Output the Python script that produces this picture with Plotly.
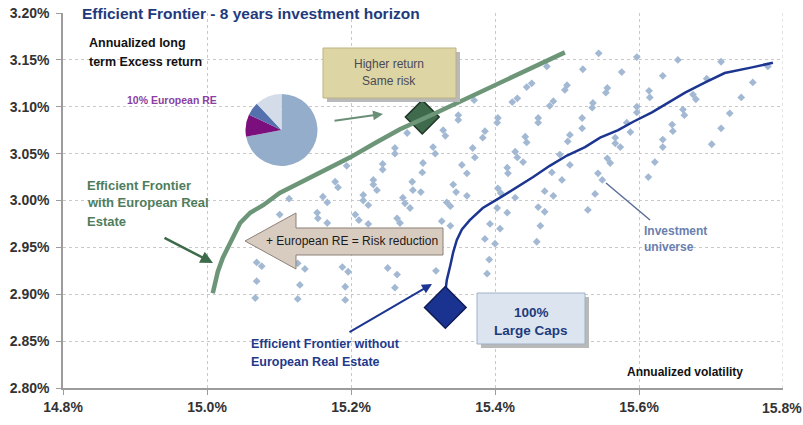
import plotly.graph_objects as go

# investment universe (annualized volatility %, annualized excess return %)
universe_vol = [
    15.544, 15.597, 15.654, 15.714, 15.779, 15.472, 15.522, 15.576, 15.633, 15.694, 15.758,
    15.451, 15.444, 15.500, 15.497, 15.556, 15.554, 15.614, 15.615, 15.675, 15.679, 15.742,
    15.371, 15.431, 15.424, 15.481, 15.476, 15.536, 15.535, 15.597, 15.597, 15.661, 15.663, 15.726,
    15.349, 15.349, 15.404, 15.403, 15.460, 15.460, 15.521, 15.521, 15.583, 15.588, 15.646, 15.647, 15.714,
    15.278, 15.328, 15.331, 15.386, 15.383, 15.442, 15.444, 15.504, 15.501, 15.567, 15.567, 15.574, 15.633, 15.633, 15.701,
    15.261, 15.261, 15.314, 15.317, 15.369, 15.372, 15.428, 15.431, 15.439, 15.490, 15.504, 15.556, 15.560, 15.622,
    15.194, 15.244, 15.244, 15.300, 15.299, 15.354, 15.361, 15.417, 15.418, 15.479, 15.493, 15.543, 15.549, 15.613,
    15.178, 15.182, 15.231, 15.231, 15.236, 15.285, 15.286, 15.297, 15.342, 15.346, 15.404, 15.408, 15.469, 15.481, 15.539,
    15.114, 15.161, 15.167, 15.217, 15.217, 15.224, 15.272, 15.275, 15.282, 15.333, 15.338, 15.361, 15.428, 15.403, 15.417, 15.460, 15.469, 15.529,
    15.101, 15.153, 15.154, 15.167, 15.206, 15.211, 15.224, 15.264, 15.268, 15.326, 15.338, 15.393, 15.407, 15.463,
    15.069, 15.076, 15.126, 15.136, 15.188, 15.196, 15.251, 15.264, 15.318, 15.386, 15.400, 15.458, 15.392, 15.389,
    15.069, 15.129, 15.192, 15.261, 15.067, 15.126, 15.192,
]
universe_ret = [
    3.157, 3.153, 3.150, 3.148, 3.143, 3.143, 3.140, 3.137, 3.133, 3.130, 3.126,
    3.125, 3.121, 3.123, 3.118, 3.120, 3.115, 3.117, 3.110, 3.113, 3.108, 3.110,
    3.107, 3.109, 3.105, 3.106, 3.101, 3.104, 3.099, 3.100, 3.094, 3.097, 3.091, 3.093,
    3.091, 3.086, 3.088, 3.083, 3.088, 3.083, 3.088, 3.077, 3.083, 3.073, 3.081, 3.074, 3.077,
    3.072, 3.075, 3.069, 3.074, 3.067, 3.068, 3.062, 3.070, 3.063, 3.067, 3.061, 3.057, 3.065, 3.057, 3.060,
    3.056, 3.050, 3.057, 3.050, 3.056, 3.046, 3.052, 3.046, 3.041, 3.049, 3.038, 3.045, 3.040, 3.041,
    3.037, 3.039, 3.033, 3.040, 3.030, 3.038, 3.029, 3.035, 3.029, 3.030, 3.022, 3.029, 3.022, 3.025,
    3.020, 3.014, 3.022, 3.017, 3.011, 3.020, 3.011, 3.009, 3.017, 3.009, 3.013, 3.008, 3.010, 3.005, 3.007,
    3.002, 3.004, 2.998, 3.006, 3.000, 2.995, 3.003, 2.997, 2.992, 2.998, 2.994, 3.005, 3.003, 2.992, 2.987, 2.993, 2.988, 2.990,
    2.985, 2.987, 2.981, 2.976, 2.985, 2.979, 2.975, 2.981, 2.976, 2.978, 2.973, 2.975, 2.970, 2.973,
    2.934, 2.930, 2.933, 2.927, 2.929, 2.924, 2.928, 2.921, 2.925, 2.959, 2.954, 2.956, 2.937, 2.922,
    2.914, 2.910, 2.908, 2.907, 2.896, 2.895, 2.894,
]

# efficient frontier with European real estate
frontier_re_vol = [15.008, 15.011, 15.015, 15.022, 15.029, 15.036, 15.046, 15.060, 15.078, 15.101,
                   15.129, 15.164, 15.199, 15.233, 15.268, 15.314, 15.361, 15.407, 15.453, 15.497]
frontier_re_ret = [2.901, 2.912, 2.924, 2.939, 2.950, 2.963, 2.976, 2.987, 2.995, 3.008,
                   3.019, 3.033, 3.046, 3.061, 3.076, 3.092, 3.109, 3.125, 3.142, 3.158]

# efficient frontier without European real estate
frontier_vol = [15.331, 15.333, 15.338, 15.342, 15.347, 15.354, 15.365, 15.383, 15.407, 15.431, 15.453, 15.476,
                15.500, 15.525, 15.546, 15.571, 15.592, 15.618, 15.639, 15.664, 15.692, 15.719, 15.757, 15.786]
frontier_ret = [2.902, 2.915, 2.931, 2.945, 2.958, 2.969, 2.979, 2.992, 3.003, 3.014, 3.025, 3.037,
                3.048, 3.057, 3.067, 3.075, 3.084, 3.094, 3.104, 3.115, 3.126, 3.136, 3.142, 3.147]

# highlighted portfolios
large_caps = (15.331, 2.886)
same_risk_re = (15.299, 3.089)

# allocation pie
pie_labels = ['Other assets', 'European RE', 'Asset B', 'Asset C']
pie_values = [72, 10, 6, 12]
pie_colors = ['#93adca', '#7c0f7e', '#5470ad', '#d3dce8']

# x ticks (last one sits on the page edge, drawn separately)
x_ticks = [14.8, 15.0, 15.2, 15.4, 15.6]
x_tick_labels = ['14.8%', '15.0%', '15.2%', '15.4%', '15.6%']
x_last_tick, x_last_label = 15.8, '15.8%'

FONT = 'Arial, Liberation Sans, sans-serif'
L, R, T, B = 63, 20, 13, 37
W, H = 803, 425
PW, PH = W - L - R, H - T - B


def px(x):
    return (x - L) / PW


def py(y):
    return (H - B - y) / PH


fig = go.Figure()

fig.add_trace(go.Scatter(x=universe_vol, y=universe_ret, mode='markers',
                         marker=dict(symbol='diamond', size=6, color='#a3b9d3'),
                         hoverinfo='x+y', showlegend=False))
fig.add_trace(go.Scatter(x=[same_risk_re[0]], y=[same_risk_re[1]], mode='markers',
                         marker=dict(symbol='diamond', size=26, color='#3f6a4b',
                                     line=dict(color='#1e3524', width=1.5)),
                         showlegend=False))
fig.add_trace(go.Scatter(x=frontier_re_vol, y=frontier_re_ret, mode='lines',
                         line=dict(color='#6d9679', width=4.5),
                         showlegend=False))
fig.add_trace(go.Scatter(x=frontier_vol, y=frontier_ret, mode='lines',
                         line=dict(color='#1c3591', width=2.5),
                         showlegend=False))
fig.add_trace(go.Scatter(x=[large_caps[0]], y=[large_caps[1]], mode='markers',
                         marker=dict(symbol='diamond', size=32, color='#1b3390',
                                     line=dict(color='#0e1c55', width=1.5)),
                         showlegend=False))
fig.add_trace(go.Pie(labels=pie_labels, values=pie_values, sort=False, direction='clockwise',
                     rotation=0, textinfo='none', hoverinfo='label+percent',
                     marker=dict(colors=pie_colors, line=dict(width=0)),
                     domain=dict(x=[px(245), px(318)], y=[py(166), py(94)]),
                     showlegend=False))

shapes = []
# "Higher return / Same risk" box with shadow
shapes.append(dict(type='rect', xref='paper', yref='paper', x0=px(327), x1=px(460), y0=py(102), y1=py(52),
                   fillcolor='#b9b9b9', line=dict(width=0), layer='above'))
shapes.append(dict(type='rect', xref='paper', yref='paper', x0=px(323), x1=px(456), y0=py(98), y1=py(48),
                   fillcolor='#ded5a5', line=dict(color='#bdb283', width=1), layer='above'))
# "100% Large Caps" box with shadow
shapes.append(dict(type='rect', xref='paper', yref='paper', x0=px(481), x1=px(589), y0=py(348), y1=py(297),
                   fillcolor='#b9b9b9', line=dict(width=0), layer='above'))
shapes.append(dict(type='rect', xref='paper', yref='paper', x0=px(477), x1=px(585), y0=py(344), y1=py(293),
                   fillcolor='#dce5ef', line=dict(color='#9fb1c6', width=1), layer='above'))
# block arrow "+ European RE = Risk reduction"
arrow_pts = [(245, 241), (296, 213), (296, 228), (443, 228), (443, 255), (296, 255), (296, 269)]
path = 'M ' + ' L '.join('%.4f,%.4f' % (px(a), py(b)) for a, b in arrow_pts) + ' Z'
shapes.append(dict(type='path', xref='paper', yref='paper', path=path,
                   fillcolor='#d8ccc1', line=dict(color='#8c8178', width=1), layer='above'))
# pointer to investment universe
shapes.append(dict(type='line', xref='paper', yref='paper', x0=px(606), y0=py(183), x1=px(650), y1=py(220),
                   line=dict(color='#5b6e99', width=1.5), layer='above'))

ann = []


def text(x, y, s, size=12, color='#111', bold=True, anchor='left'):
    ann.append(dict(xref='paper', yref='paper', x=px(x), y=py(y), text=s, showarrow=False,
                    xanchor=anchor, yanchor='middle',
                    font=dict(family=FONT, size=size, color=color, weight='bold' if bold else 'normal')))


text(80, 13, 'Efficient Frontier - 8 years investment horizon', size=15.5, color='#1f3a7c')
text(87, 43, 'Annualized long', size=12.5)
text(87, 62, 'term Excess return', size=12.5)
text(125, 100, '10% European RE', size=10.5, color='#8b3fa2')
text(389, 64, 'Higher return', size=12, color='#4a4a55', bold=False, anchor='center')
text(389, 81, 'Same risk', size=12, color='#4a4a55', bold=False, anchor='center')
text(85, 185, 'Efficient Frontier', size=13, color='#4f7d5c')
text(85, 203, 'with European Real', size=13, color='#4f7d5c')
text(85, 221, 'Estate', size=13, color='#4f7d5c')
text(352, 241, '+ European RE = Risk reduction', size=12, color='#1a1a1a', bold=False, anchor='center')
text(531, 312, '100%', size=13.5, color='#1f3a7c', anchor='center')
text(531, 330, 'Large Caps', size=13.5, color='#1f3a7c', anchor='center')
text(249, 344, 'Efficient Frontier without', size=12.5, color='#1f3a8a')
text(249, 362, 'European Real Estate', size=12.5, color='#1f3a8a')
text(642, 231, 'Investment', size=12, color='#6b7fae')
text(642, 247, 'universe', size=12, color='#6b7fae')
text(625, 372, 'Annualized volatility', size=12, color='#111')

ann.append(dict(xref='x', yref='paper', x=x_last_tick, y=py(408), text=x_last_label, showarrow=False,
                xanchor='right', xshift=21, yanchor='middle',
                font=dict(family=FONT, size=14, color='#333', weight='bold')))

# arrows
ann.append(dict(xref='paper', yref='paper', x=px(383), y=py(114), ax=-50, ay=7, text='', showarrow=True,
                arrowhead=2, arrowsize=1, arrowwidth=2, arrowcolor='#6a8f78'))
ann.append(dict(xref='paper', yref='paper', x=px(213), y=py(263), ax=-50, ay=-26, text='', showarrow=True,
                arrowhead=2, arrowsize=1, arrowwidth=2.5, arrowcolor='#3d6b4a'))
ann.append(dict(xref='paper', yref='paper', x=px(432), y=py(284), ax=-84, ay=49, text='', showarrow=True,
                arrowhead=2, arrowsize=1, arrowwidth=2, arrowcolor='#1c3591'))

fig.update_layout(
    width=W, height=H,
    margin=dict(l=L, r=R, t=T, b=B, autoexpand=False),
    paper_bgcolor='white', plot_bgcolor='white',
    shapes=shapes, annotations=ann,
    font=dict(family=FONT),
    xaxis=dict(range=[14.8, 15.8], tickmode='array', tickvals=x_ticks, ticktext=x_tick_labels,
               showgrid=True, gridcolor='#c9c9c9', griddash='dot', gridwidth=1,
               showline=True, linecolor='#9c9c9c', linewidth=1.5, ticks='outside', ticklen=5,
               tickcolor='#9c9c9c', zeroline=False, automargin=False,
               tickfont=dict(family=FONT, size=14, color='#333', weight='bold')),
    yaxis=dict(range=[2.8, 3.2], dtick=0.05, tick0=2.8, tickformat='.2f', ticksuffix='%',
               showgrid=True, gridcolor='#c9c9c9', griddash='dot', gridwidth=1,
               showline=True, linecolor='#9c9c9c', linewidth=1.5, ticks='outside', ticklen=5,
               tickcolor='#9c9c9c', zeroline=False, automargin=False, ticklabelstandoff=4,
               tickfont=dict(family=FONT, size=14, color='#333', weight='bold')),
)
# vertical grid line at the right edge (15.8%)
fig.add_vline(x=x_last_tick, line=dict(color='#c9c9c9', dash='dot', width=1))

# drop the default 8px body margin so the figure fills the window
fig.write_html("out.html", config={'displayModeBar': False},
               post_script="document.body.style.margin='0';")
